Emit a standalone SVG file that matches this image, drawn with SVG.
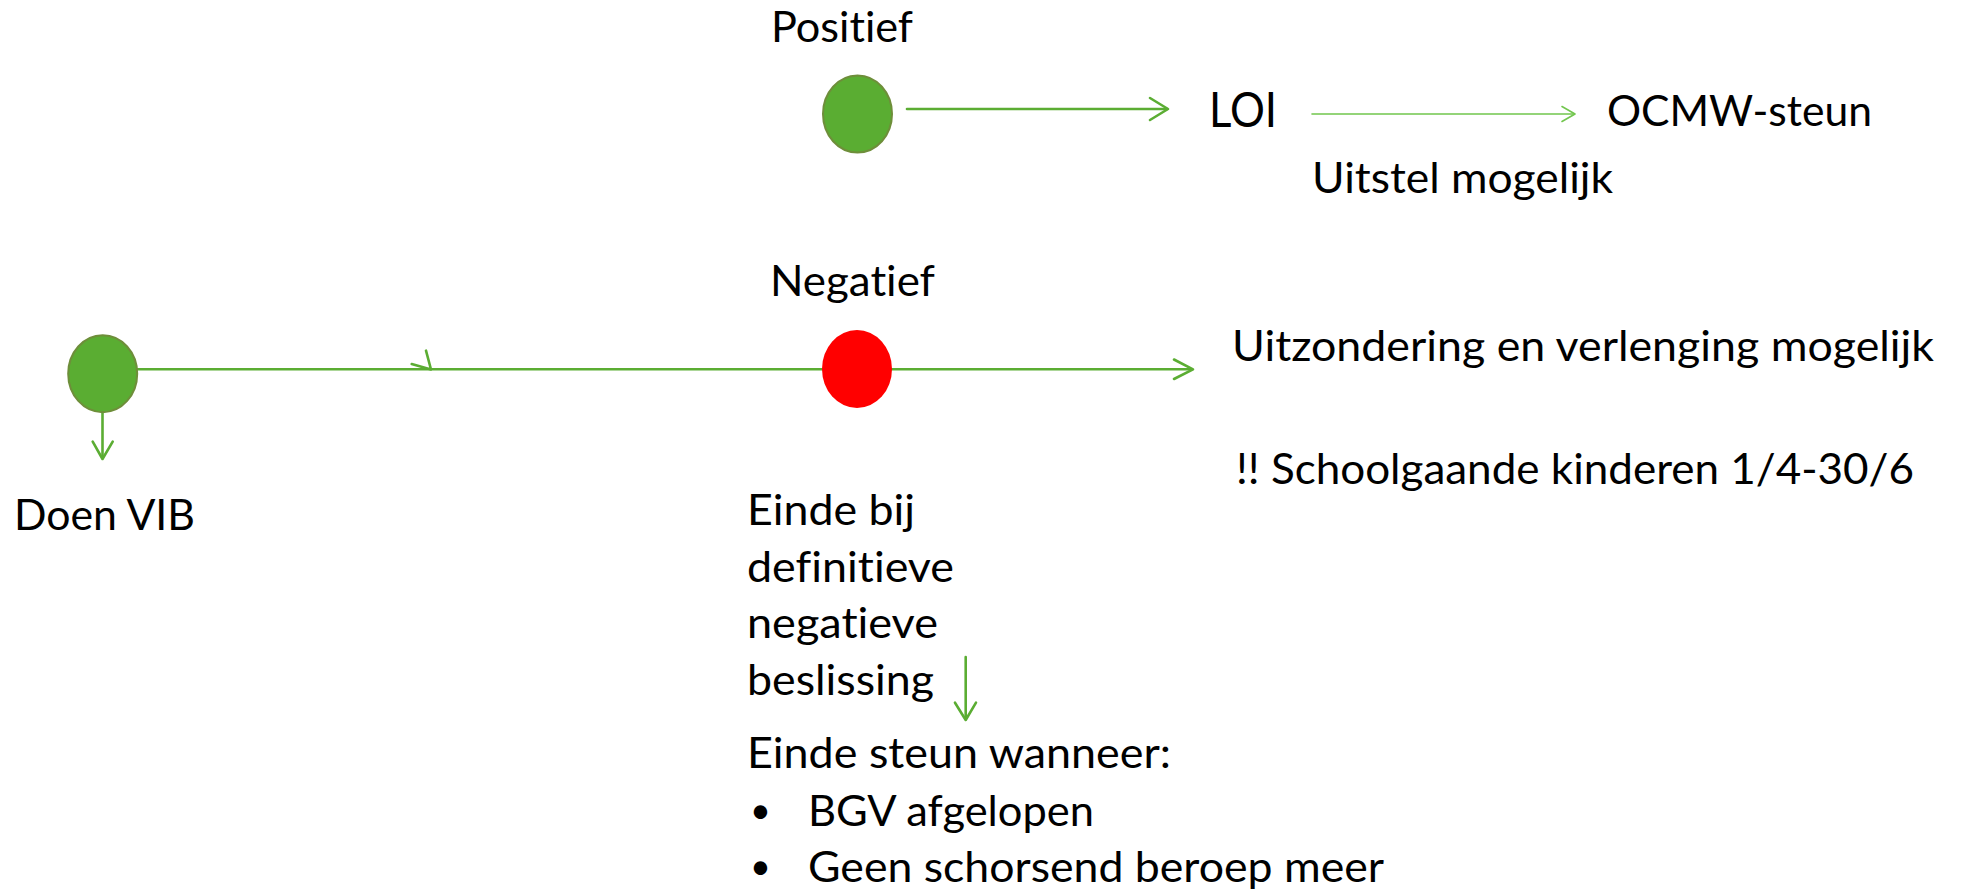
<svg xmlns="http://www.w3.org/2000/svg" width="1962" height="895" viewBox="0 0 1962 895">
<style>
  text { font-family: Lato, "Liberation Sans", sans-serif; font-size: 42px; fill: #000; font-variant-ligatures: none; }
  .big { font-size: 49px; }
  .bul { font-size: 36px; }
  .ln { stroke: #5BAD33; stroke-width: 2.6; fill: none; stroke-linecap: round; stroke-linejoin: round; }
  .thin { stroke: #72C64E; stroke-width: 1.6; fill: none; stroke-linecap: round; stroke-linejoin: round; }
  .gdot { fill: #5AAD32; stroke: #6E8E3A; stroke-width: 2; }
  .rdot { fill: #FF0000; }
</style>
<rect width="1962" height="895" fill="#fff"/>
<g id="connectors">
  <line class="ln" x1="907" y1="109" x2="1167" y2="109"/>
  <polyline class="ln" points="1150,98 1168,109 1150,120"/>
  <line class="thin" x1="1312" y1="114" x2="1574" y2="114"/>
  <polyline class="thin" points="1562,106.5 1575,114 1562,121.5"/>
  <line class="ln" x1="137" y1="369.3" x2="1191" y2="369.3"/>
  <polyline class="ln" points="411.7,364 431,369.5 426,350.7"/>
  <polyline class="ln" points="1174,359.5 1193,369.3 1174,379"/>
  <line class="ln" x1="102.5" y1="412" x2="102.5" y2="458"/>
  <polyline class="ln" points="92.7,441.7 102.5,459 112.7,441.7"/>
  <line class="ln" x1="965.7" y1="657" x2="965.7" y2="719"/>
  <polyline class="ln" points="955,702.7 965.7,720 976,702.7"/>
</g>
<g id="node-positief">
  <text x="771" y="42" textLength="142" lengthAdjust="spacingAndGlyphs">Positief</text>
  <ellipse class="gdot" cx="857.5" cy="114" rx="34.5" ry="38.5"/>
</g>
<g id="node-loi">
  <text class="big" x="1209" y="127" textLength="68" lengthAdjust="spacingAndGlyphs">LOI</text>
</g>
<g id="node-ocmw">
  <text x="1607" y="126" textLength="265" lengthAdjust="spacingAndGlyphs">OCMW-steun</text>
</g>
<g id="label-uitstel">
  <text x="1312" y="193" textLength="301" lengthAdjust="spacingAndGlyphs">Uitstel mogelijk</text>
</g>
<g id="node-start">
  <ellipse class="gdot" cx="102.7" cy="373.7" rx="34.5" ry="38.5"/>
</g>
<g id="node-doen-vib">
  <text x="14" y="530" textLength="181" lengthAdjust="spacingAndGlyphs">Doen VIB</text>
</g>
<g id="node-negatief">
  <text x="770" y="296" textLength="165" lengthAdjust="spacingAndGlyphs">Negatief</text>
  <ellipse class="rdot" cx="857" cy="369" rx="35" ry="39"/>
</g>
<g id="node-uitzondering">
  <text x="1232" y="361" textLength="702" lengthAdjust="spacingAndGlyphs">Uitzondering en verlenging mogelijk</text>
  <text x="1236" y="484" textLength="678" lengthAdjust="spacingAndGlyphs">!! Schoolgaande kinderen 1/4-30/6</text>
</g>
<g id="node-einde-bij">
  <text x="747" y="525" textLength="168" lengthAdjust="spacingAndGlyphs">Einde bij</text>
  <text x="747" y="582" textLength="207" lengthAdjust="spacingAndGlyphs">definitieve</text>
  <text x="747" y="638" textLength="191" lengthAdjust="spacingAndGlyphs">negatieve</text>
  <text x="747" y="695" textLength="187" lengthAdjust="spacingAndGlyphs">beslissing</text>
</g>
<g id="node-einde-steun">
  <text x="747" y="768" textLength="424" lengthAdjust="spacingAndGlyphs">Einde steun wanneer:</text>
  <text class="bul" x="750" y="823">•</text>
  <text x="808" y="826" textLength="286" lengthAdjust="spacingAndGlyphs">BGV afgelopen</text>
  <text class="bul" x="750" y="879">•</text>
  <text x="808" y="882" textLength="576" lengthAdjust="spacingAndGlyphs">Geen schorsend beroep meer</text>
</g>
</svg>
